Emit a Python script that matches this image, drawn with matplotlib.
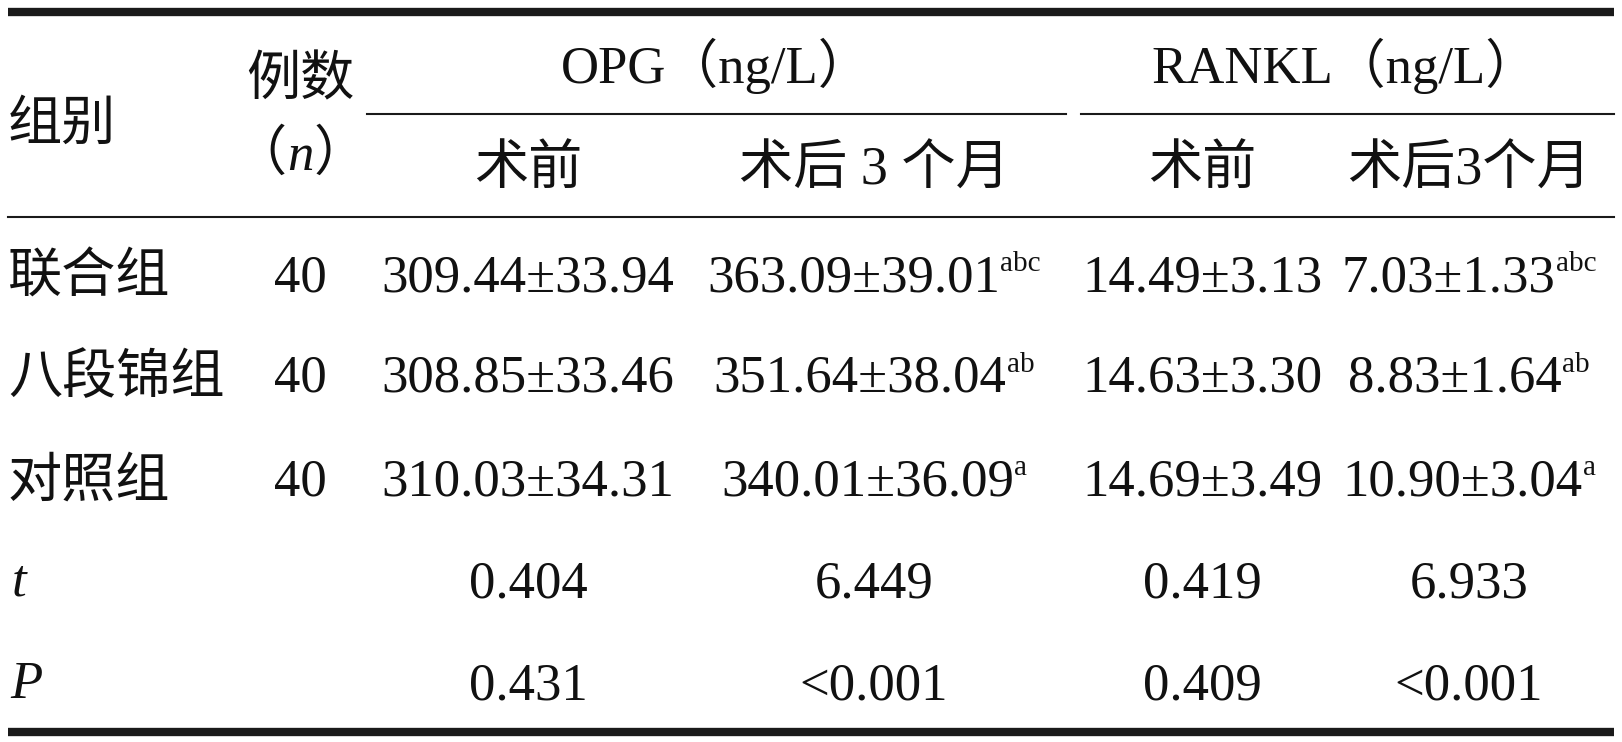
"""
Tabelle: OPG- und RANKL-Werte vor und 3 Monate nach OP, drei Gruppen.
"""

import matplotlib
matplotlib.use('Agg')
import matplotlib.pyplot as plt

# ===================================================================
# DATEN
# ===================================================================
groups = ['联合组', '八段锦组', '对照组']
n_cases = ['40', '40', '40']
opg_pre = ['309.44±33.94', '308.85±33.46', '310.03±34.31']
opg_post = ['363.09±39.01', '351.64±38.04', '340.01±36.09']
opg_post_sup = ['abc', 'ab', 'a']
rankl_pre = ['14.49±3.13', '14.63±3.30', '14.69±3.49']
rankl_post = ['7.03±1.33', '8.83±1.64', '10.90±3.04']
rankl_post_sup = ['abc', 'ab', 'a']
t_values = ['0.404', '6.449', '0.419', '6.933']
p_values = ['0.431', '<0.001', '0.409', '<0.001']

# ===================================================================
# LAYOUT (Pixelkoordinaten, y nach unten)
# ===================================================================
W, H = 1622, 742
LEFT, RIGHT = 8, 1614
COL_X = [300, 528, 874, 1202, 1469]      # 例数, OPG前, OPG后, RANKL前, RANKL后
ROW_Y = [274, 375, 478, 581, 683]
LINE_COLOR = '#1a1a1a'
SERIF = ['Liberation Serif', 'Noto Sans CJK SC']
CJK = ['Noto Sans CJK SC', 'Liberation Serif']
FS = 38
FS_CJK = 39
FS_SUP = 21
TEXT_COLOR = '#111111'

fig = plt.figure(figsize=(W / 100, H / 100), dpi=100)
ax = fig.add_axes([0, 0, 1, 1])
ax.set_xlim(0, W)
ax.set_ylim(H, 0)
ax.axis('off')
renderer = fig.canvas.get_renderer()


def runs(x, y, parts):
    """Mehrere Textstücke nebeneinander, zusammen zentriert."""
    objs, widths = [], []
    for txt, kw in parts:
        kw = dict(kw)
        dy = kw.pop('dy', 0)
        t = ax.text(0, y + dy, txt, ha='left', va='baseline', color=TEXT_COLOR, **kw)
        objs.append(t)
        widths.append(t.get_window_extent(renderer).width)
    cur = x - sum(widths) / 2
    for t, w in zip(objs, widths):
        t.set_x(cur)
        cur += w
    return objs


def num(x, y, txt, sup=None):
    parts = [(txt, dict(family=SERIF, fontsize=FS))]
    if sup:
        parts.append((sup, dict(family=SERIF, fontsize=FS_SUP, dy=-20)))
    runs(x, y + 17, parts)


# --- Linien ---
ax.plot([LEFT, RIGHT], [12, 12], color=LINE_COLOR, lw=6, solid_capstyle='butt')
ax.plot([LEFT, RIGHT], [732, 732], color=LINE_COLOR, lw=6, solid_capstyle='butt')
ax.plot([LEFT, RIGHT], [217, 217], color=LINE_COLOR, lw=1.5)
ax.plot([367, 1066], [114, 114], color=LINE_COLOR, lw=1.5)
ax.plot([1081, RIGHT], [114, 114], color=LINE_COLOR, lw=1.5)

# --- Kopfzeile ---
ax.text(LEFT, 124, '组别', family=CJK, fontsize=FS_CJK, ha='left', va='center', color=TEXT_COLOR)
ax.text(COL_X[0], 80, '例数', family=CJK, fontsize=FS_CJK, ha='center', va='center', color=TEXT_COLOR)
runs(COL_X[0], 170, [('（', dict(family=CJK, fontsize=FS_CJK)),
                     ('n', dict(family=SERIF, fontsize=FS, style='italic')),
                     ('）', dict(family=CJK, fontsize=FS_CJK))])
ax.text(716, 66, 'OPG（ng/L）', family=SERIF, fontsize=FS, ha='center', va='center', color=TEXT_COLOR)
ax.text(1345, 66, 'RANKL（ng/L）', family=SERIF, fontsize=FS, ha='center', va='center', color=TEXT_COLOR)
for x, lab in zip(COL_X[1:], ['术前', '术后 3 个月', '术前', '术后3个月']):
    ax.text(x, 171, lab, family=SERIF, fontsize=FS_CJK, ha='center', va='center', color=TEXT_COLOR)

# --- Gruppenzeilen ---
for i, g in enumerate(groups):
    y = ROW_Y[i]
    ax.text(LEFT, y + 3, g, family=CJK, fontsize=FS_CJK, ha='left', va='center', color=TEXT_COLOR)
    num(COL_X[0], y, n_cases[i])
    num(COL_X[1], y, opg_pre[i])
    num(COL_X[2], y, opg_post[i], opg_post_sup[i])
    num(COL_X[3], y, rankl_pre[i])
    num(COL_X[4], y, rankl_post[i], rankl_post_sup[i])

# --- Statistik ---
ax.text(LEFT + 4, ROW_Y[3] + 2, 't', family=SERIF, fontsize=FS, style='italic',
        ha='left', va='center', color=TEXT_COLOR)
ax.text(LEFT + 2, ROW_Y[4] + 2, 'P', family=SERIF, fontsize=FS, style='italic',
        ha='left', va='center', color=TEXT_COLOR)
for j in range(4):
    num(COL_X[j + 1], ROW_Y[3], t_values[j])
    num(COL_X[j + 1], ROW_Y[4], p_values[j])

fig.savefig('out.png', dpi=100, facecolor='white')
